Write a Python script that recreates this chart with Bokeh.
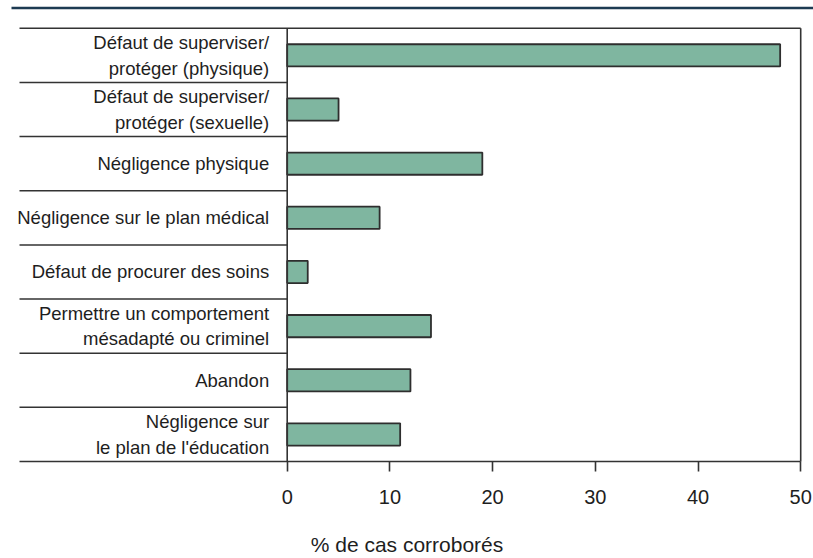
from bokeh.plotting import figure
from bokeh.models import FixedTicker, ColumnDataSource, Range1d
from bokeh.core.properties import value
from bokeh.embed import file_html
from bokeh.resources import INLINE

# ---- data ----
categories = [
    "Défaut de superviser/\nprotéger (physique)",
    "Défaut de superviser/\nprotéger (sexuelle)",
    "Négligence physique",
    "Négligence sur le plan médical",
    "Défaut de procurer des soins",
    "Permettre un comportement\nmésadapté ou criminel",
    "Abandon",
    "Négligence sur\nle plan de l'éducation",
]
values = [48, 5, 19, 9, 2, 14, 12, 11]
x_ticks = [0, 10, 20, 30, 40, 50]
x_title = "% de cas corroborés"

# ---- geometry (page pixels -> data units) ----
W, H = 813, 558
PX_X = 10.27          # px per % unit
X0_PAGE = 286.7       # page x of value 0
x_start = (0 - X0_PAGE) / PX_X
x_end = (W - X0_PAGE) / PX_X
SLOT = 54.625
TOP_PAGE = 28
BOTTOM_PAGE = 467
n = len(categories)
y_start = -(BOTTOM_PAGE - (TOP_PAGE + n * SLOT)) / SLOT
y_end = n + TOP_PAGE / SLOT
sep_left = (19 - X0_PAGE) / PX_X
blue_left = (11 - X0_PAGE) / PX_X
blue_y = n + (TOP_PAGE - 7.5) / SLOT
label_x = -18 / PX_X

FONT = value("Liberation Sans")
TXT = "#1e1e1e"
LINE = "#333333"

p = figure(width=W, height=H,
           x_range=Range1d(x_start, x_end), y_range=Range1d(y_start, y_end),
           output_backend="svg", toolbar_location=None, y_axis_location=None,
           min_border_left=0, min_border_right=0, min_border_top=0,
           min_border_bottom=H - BOTTOM_PAGE)
p.outline_line_color = None
p.grid.visible = False
p.background_fill_color = "white"
p.border_fill_color = "white"

# bars
ys = [n - 0.5 - i for i in range(n)]
src = ColumnDataSource(dict(y=ys, right=values, left=[0] * n))
p.hbar(y="y", left="left", right="right", height=0.41, source=src,
       fill_color="#7fb6a0", line_color="#2e2e2e", line_width=1.8)

# separators and frame lines
sep_y = list(range(1, n))
p.segment(x0=[sep_left] * len(sep_y), y0=sep_y, x1=[0] * len(sep_y), y1=sep_y,
          line_color=LINE, line_width=1.5)
p.segment(x0=[sep_left, sep_left], y0=[n, 0], x1=[x_ticks[-1], x_ticks[-1]], y1=[n, 0],
          line_color=LINE, line_width=1.6)
p.segment(x0=[0, x_ticks[-1]], y0=[0, 0], x1=[0, x_ticks[-1]], y1=[n, n],
          line_color=LINE, line_width=1.6)
# top blue rule
p.segment(x0=[blue_left], y0=[blue_y], x1=[x_end], y1=[blue_y],
          line_color="#1d3b52", line_width=2.5)

# category labels (multi-line split)
lx, ly, lt, lo = [], [], [], []
for i, cat in enumerate(categories):
    lines = cat.split("\n")
    k = len(lines)
    for j, t in enumerate(lines):
        lx.append(label_x)
        ly.append(ys[i])
        lt.append(t)
        lo.append((j - (k - 1) / 2) * 25.5)
lsrc = ColumnDataSource(dict(x=lx, y=ly, text=lt, yo=lo))
p.text(x="x", y="y", text="text", y_offset="yo", source=lsrc,
       text_align="right", text_baseline="middle", text_font=FONT,
       text_font_size="18.5px", text_color=TXT)

# x axis
ax = p.xaxis[0]
ax.ticker = FixedTicker(ticks=x_ticks)
ax.axis_line_color = None
ax.major_tick_in = 2
ax.major_tick_out = 8
ax.major_tick_line_color = LINE
ax.major_tick_line_width = 1.6
ax.minor_tick_line_color = None
ax.major_label_text_font = "Liberation Sans"
ax.major_label_text_font_size = "20px"
ax.major_label_text_color = TXT
ax.major_label_standoff = 18
ax.axis_label = x_title
ax.axis_label_text_font = "Liberation Sans"
ax.axis_label_text_font_size = "21px"
ax.axis_label_text_font_style = "normal"
ax.axis_label_text_color = TXT
ax.axis_label_standoff = 26

open("out.html", "w").write(file_html(p, INLINE))
